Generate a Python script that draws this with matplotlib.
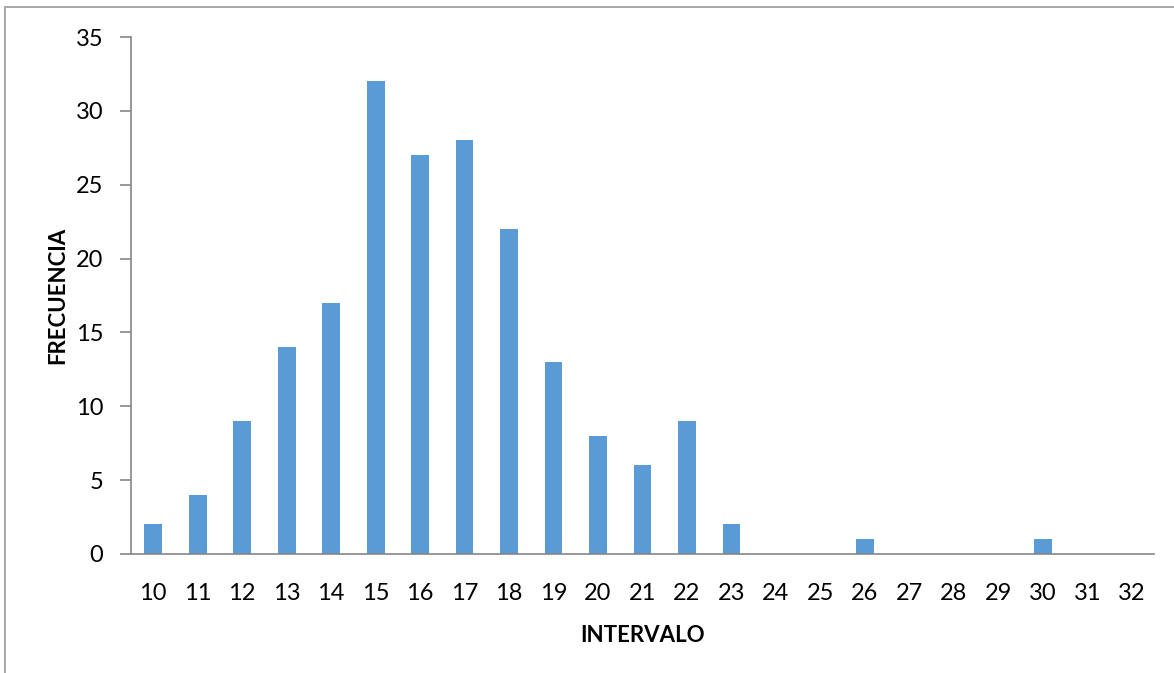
import numpy as np
import matplotlib
matplotlib.use('Agg')
import matplotlib.pyplot as plt
from matplotlib.patches import Rectangle

intervals = [str(i) for i in range(10, 33)]
freq = [2, 4, 9, 14, 17, 32, 27, 28, 22, 13, 8, 6, 9, 2, 0, 0, 1, 0, 0, 0, 1, 0, 0]
yticks = [0, 5, 10, 15, 20, 25, 30, 35]

plt.rcParams['font.family'] = ['Lato', 'DejaVu Sans']

W, H = 1174, 673
fig = plt.figure(figsize=(W / 100, H / 100), dpi=100)

# outer chart border (runs off the image at right and bottom)
fig.patches.append(Rectangle((5 / W, -0.1), 1.2, 1 - 7 / H + 0.1,
                             transform=fig.transFigure, fill=False,
                             edgecolor='#9a9a9a', linewidth=1.2))

ax = fig.add_axes([131 / W, 1 - 554 / H, (1154 - 131) / W, (554 - 37) / H])
x = np.arange(len(intervals))
ax.bar(x, freq, width=0.4, color='#5B9BD5')

ax.set_xlim(-0.5, len(intervals) - 0.5)
ax.set_ylim(0, 35)
ax.set_yticks(yticks)
ax.set_xticks(x)
ax.set_xticklabels(intervals)

for s in ['top', 'right']:
    ax.spines[s].set_visible(False)
for s in ['left', 'bottom']:
    ax.spines[s].set_color('#868686')
    ax.spines[s].set_linewidth(1.2)

ax.tick_params(axis='x', length=0, pad=21, labelsize=17)
ax.tick_params(axis='y', length=8, width=1.2, color='#868686', pad=12, labelsize=17)

ax.set_xlabel('INTERVALO', fontsize=16, fontweight='bold', labelpad=15)
ax.set_ylabel('FRECUENCIA', fontsize=16, fontweight='bold', labelpad=5)

fig.savefig('out.png', dpi=100)
